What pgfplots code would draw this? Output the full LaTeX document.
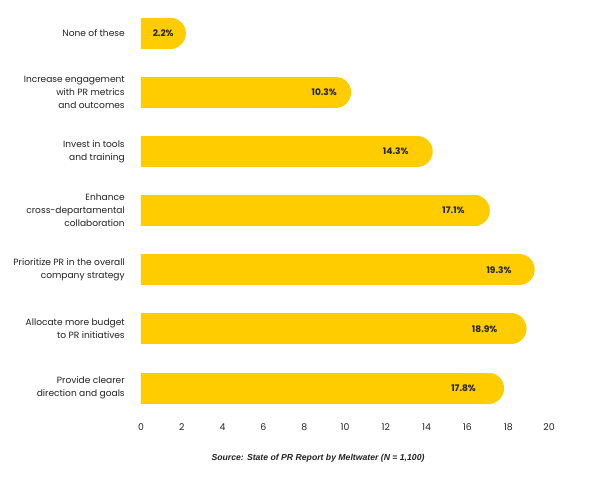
\documentclass[border=0pt]{standalone}
\usepackage{fontspec}
\setmainfont{Poppins}
\newfontfamily\srcfont{Liberation Sans}
\usepackage{pgfplots}
\pgfplotsset{compat=1.18}
\usepackage{pgfplotstable}
\definecolor{barY}{RGB}{255,204,0}
\definecolor{txt}{RGB}{34,34,34}
\pgfplotstableread{
idx value shift
0 2.2 12
1 10.3 14
2 14.3 24
3 17.1 25
4 19.3 23
5 18.9 29
6 17.8 28
}\datatable
\begin{document}
\begin{tikzpicture}
\path[use as bounding box] (0pt,0pt) rectangle (450pt,-369.75pt);
\begin{axis}[
  at={(105.75pt,-313.2pt)}, anchor=south west,
  scale only axis, width=306pt, height=310.65pt,
  xmin=0, xmax=20, ymin=-0.5, ymax=6.5, y dir=reverse,
  axis line style={draw=none}, major tick length=0pt, tick style={draw=none},
  xtick={0,2,...,20}, ytick={0,...,6},
  yticklabels={None of these,{Increase engagement\\with PR metrics\\and outcomes},{Invest in tools\\and training},{Enhance\\cross-departamental\\collaboration},{Prioritize PR in the overall\\company strategy},{Allocate more budget\\to PR initiatives},{Provide clearer\\direction and goals}},
  /pgf/number format/assume math mode=true,
  every y tick label/.append style={align=right, font=\fontsize{6.8}{9.75}\selectfont, text=txt, inner xsep=0pt, xshift=-12pt},
  every x tick label/.append style={font=\fontsize{7}{8}\selectfont, text=txt, inner ysep=0pt, yshift=-4.5pt},
  clip=true,
]
\addplot[xcomb, draw=barY, mark=none, line width=23.25pt, line cap=round, xshift=-11.625pt]
  table[x=value, y=idx] {\datatable};
\addplot[draw=none, mark=none,
  point meta=x,
  visualization depends on={\thisrow{shift}\as\myshift},
  nodes near coords={\pgfmathprintnumber[fixed,precision=1,fixed zerofill]{\pgfplotspointmeta}\%},
  every node near coord/.append style={anchor=east, xshift={-\myshift*0.75pt}, font=\bfseries\fontsize{6.8}{8}\selectfont, text=txt, inner sep=0pt},
] table[x=value, y=idx] {\datatable};
\end{axis}
\node[font=\srcfont\bfseries\itshape\fontsize{6.5}{8}\selectfont, text=txt] at (238.5pt,-343.5pt) {Source: State of PR Report by Meltwater (N = 1,100)};
\end{tikzpicture}
\end{document}
